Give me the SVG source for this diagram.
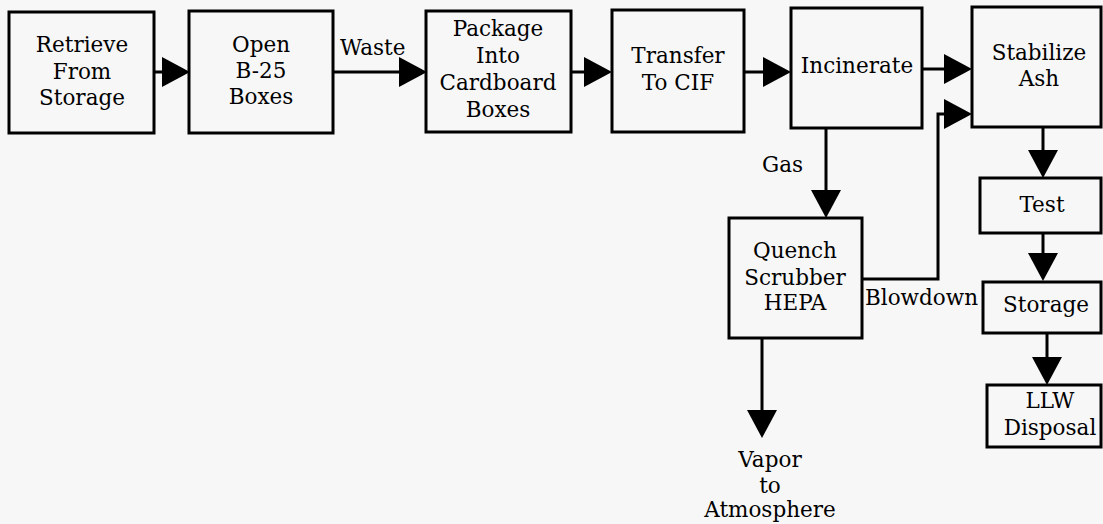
<svg xmlns="http://www.w3.org/2000/svg" width="1103" height="524" viewBox="0 0 1103 524">
  <style>
    .box { fill: none; stroke: #000; stroke-width: 3; }
    .wire { fill: none; stroke: #000; stroke-width: 3; }
    text { font-family: "DejaVu Serif", "Liberation Serif", serif; font-size: 21.5px; fill: #000; }
    .c { text-anchor: middle; }
  </style>
  <defs>
    <!-- solid triangular head; tip sits 10px past the line end -->
    <marker id="head" markerUnits="userSpaceOnUse" markerWidth="29" markerHeight="30" refX="18" refY="15" orient="auto" viewBox="0 0 29 30">
      <path d="M0,0 L28,15 L0,30 z" fill="#000"/>
    </marker>
  </defs>
  <rect width="1103" height="524" fill="#f7f7f7"/>

  <!-- process steps -->
  <g id="retrieve">
    <rect class="box" x="9" y="12" width="145" height="121"/>
    <text class="c" x="82" y="52">Retrieve</text>
    <text class="c" x="82" y="79">From</text>
    <text class="c" x="82" y="105">Storage</text>
  </g>
  <g id="open-b25">
    <rect class="box" x="189" y="11" width="144" height="122"/>
    <text class="c" x="261" y="52">Open</text>
    <text class="c" x="261" y="78">B-25</text>
    <text class="c" x="261" y="104">Boxes</text>
  </g>
  <g id="package">
    <rect class="box" x="426" y="11" width="145" height="121"/>
    <text class="c" x="498" y="36">Package</text>
    <text class="c" x="498" y="63">Into</text>
    <text class="c" x="498" y="90">Cardboard</text>
    <text class="c" x="498" y="117">Boxes</text>
  </g>
  <g id="transfer">
    <rect class="box" x="612" y="10" width="132" height="122"/>
    <text class="c" x="678" y="63">Transfer</text>
    <text class="c" x="678" y="90">To CIF</text>
  </g>
  <g id="incinerate">
    <rect class="box" x="791" y="8" width="131" height="120"/>
    <text class="c" x="857" y="73">Incinerate</text>
  </g>
  <g id="stabilize">
    <rect class="box" x="972" y="7" width="129" height="120"/>
    <text class="c" x="1039" y="60">Stabilize</text>
    <text class="c" x="1039" y="86">Ash</text>
  </g>
  <g id="quench">
    <rect class="box" x="729" y="218" width="133" height="120"/>
    <text class="c" x="795" y="258">Quench</text>
    <text class="c" x="795" y="285">Scrubber</text>
    <text class="c" x="795" y="310">HEPA</text>
  </g>
  <g id="test">
    <rect class="box" x="980" y="178" width="121" height="55"/>
    <text class="c" x="1042" y="212">Test</text>
  </g>
  <g id="storage">
    <rect class="box" x="983" y="282" width="118" height="51"/>
    <text class="c" x="1046" y="312">Storage</text>
  </g>
  <g id="llw-disposal">
    <rect class="box" x="987" y="385" width="114" height="62"/>
    <text class="c" x="1050" y="408">LLW</text>
    <text class="c" x="1050" y="435">Disposal</text>
  </g>
  <g id="vapor">
    <text class="c" x="770" y="467">Vapor</text>
    <text class="c" x="770" y="493">to</text>
    <text class="c" x="770" y="517">Atmosphere</text>
  </g>

  <!-- flow lines -->
  <g id="connectors">
    <path class="wire" d="M154,72 H180" marker-end="url(#head)"/>
    <path class="wire" d="M333,72 H417" marker-end="url(#head)"/>
    <path class="wire" d="M571,72 H602" marker-end="url(#head)"/>
    <path class="wire" d="M744,72 H781" marker-end="url(#head)"/>
    <path class="wire" d="M922,69 H962" marker-end="url(#head)"/>
    <path class="wire" d="M862,279 H938 V114 H962" marker-end="url(#head)"/>
    <path class="wire" d="M826,128 V208" marker-end="url(#head)"/>
    <path class="wire" d="M762,338 V428" marker-end="url(#head)"/>
    <path class="wire" d="M1043,127 V168" marker-end="url(#head)"/>
    <path class="wire" d="M1043,233 V271" marker-end="url(#head)"/>
    <path class="wire" d="M1047,333 V375" marker-end="url(#head)"/>
    <text x="340" y="55">Waste</text>
    <text x="762" y="172">Gas</text>
    <text x="865" y="305">Blowdown</text>
  </g>
</svg>
